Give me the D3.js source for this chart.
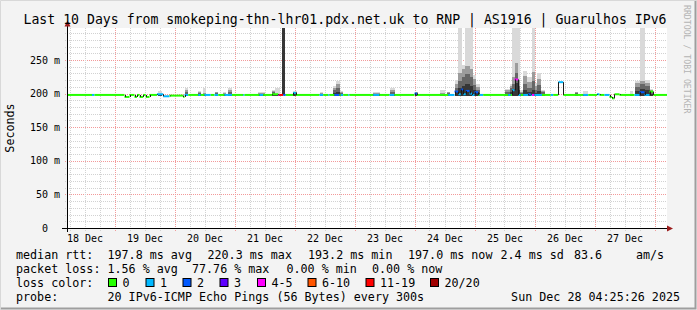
<!DOCTYPE html>
<html lang="en">
<head>
<meta charset="UTF-8">
<title>Smokeping 10 days</title>
<script src="https://d3js.org/d3.v7.min.js"></script>
<style>
    body { margin: 0; background: #f3f3f3; }
    svg { display: block; font-family: "DejaVu Sans Mono", monospace; }
    text { white-space: pre; }
</style>
</head>
<body>
<svg id="chart" width="697" height="310"></svg>
<script>
const title = "Last 10 Days from smokeping-thn-lhr01.pdx.net.uk to RNP | AS1916 | Guarulhos IPv6";
const yTicks = [0, 50, 100, 150, 200, 250];
const dayLabels = ["18 Dec", "19 Dec", "20 Dec", "21 Dec", "22 Dec", "23 Dec", "24 Dec", "25 Dec", "26 Dec", "27 Dec"];

// loss classes (20 pings)
const lossColors = ["#26ff00", "#00b8ff", "#0059ff", "#5e00ff", "#ff00ff", "#ff5500", "#ff0000", "#a00000"];
const lossLabels = ["0", "1", "2", "3", "4-5", "6-10", "11-19", "20/20"];

// median rtt, step segments; times are hours since 18 Dec 00:00
const medianTimes = [5,15,16,28,30,32,33,34,35.5,36.5,38,41,43.5,46,51.5,52,53.5,57.5,58.5,60,62.5,64,65.5,68,71,75.5,76,82,83.5,87,89.5,90,91.5,92.5,95.5,96.5,106,107.5,109.5,110,112,114,114.5,115.5,117.5,118,127.5,130,134,136,144,145,157.5,160,161.5,162.5,163.5,164.5,166,167,168,169.5,170,171.5,181.5,182.5,183,184,185.5,186.5,187.5,189.5,190.5,191,192,195,198.5,199.5,201.5,203.5,211.5,213.5,217,218,220,222,223,224,226,232,234,236,238,239.5];
const medianValues = [198,198,198,195,198,195,198,195,198,195,198,199,196,197,195,198,198,198,198,198,198,198,198,198,198,198,198,198,198,199,198,198,198,198,201,198,198,198,198,198,198,198,198,198,198,198,198,198,198,198,200,198,198,203,199,206,199,204,200,198,202,198,198,198,198,198,205,221,198,198,198,199,198,198,198,198,198,198,217,198,198,198,199,198,198,195,193,199,198,198,202,198,203,198];
const medianLoss = [0,1,0,0,0,0,0,0,0,0,0,1,1,0,0,1,0,1,0,1,0,1,0,1,0,1,0,1,0,0,4,6,2,0,1,0,1,0,1,0,2,0,1,0,1,0,1,0,1,0,2,0,1,2,1,2,1,2,1,1,2,0,1,0,1,0,1,4,1,0,1,2,1,4,1,0,1,0,1,0,1,0,1,0,1,0,0,0,0,1,2,1,0,0];
const endHour = 245;

// smoke: ping spread per burst (ms)
const smokeStart = [41.5,52,57.5,59.5,64,67.5,69.5,81.5,87,88,91,95.5,106,111.5,112.5,114,127.5,134,144,154,157,160,161.5,163,164,166,167.5,168.5,180,182,183,184,185.5,186,187.5,189,191,192,193,194.5,208,211.5,230,232,234,236,238];
const smokeEnd   = [43,53.5,58.5,60.5,65.5,68.5,71,84,88,90,92,97,107.5,112.5,114,115.5,130,136,145.5,156,158,161.5,163,164,166,167.5,168.5,170,182,183,184,185.5,186,187.5,189,191,192,193,194.5,196,209.5,213.5,231.5,234,236,238,239.5];
const smokeLo    = [197,197,197,197,197,197,197,197,197,197,198,197,197,197,197,197,197,197,197,197,197,196,196,196,196,196,196,196,196,196,196,196,196,196,196,196,196,196,196,196,196,196,197,196,196,196,196];
const smokeP1    = [198,199,199,198,199,199,199,199,200,198,300,200,199,201,203,199,199,199,200,198,199,203,208,211,214,211,205,201,199,203,207,216,205,199,205,202,206,201,204,199,200,198,198,204,207,205,199];
const smokeP2    = [199,202,201,199,201,200,202,200,202,199,300,202,200,205,208,201,200,202,201,199,201,209,219,224,229,224,213,205,202,208,215,230,212,201,214,209,218,206,213,202,201,199,199,210,214,211,203];
const smokeP3    = [200,205,202,201,202,201,205,201,204,200,300,203,201,209,214,202,201,205,202,201,202,215,230,236,241,236,222,210,205,211,224,245,220,203,226,217,232,211,222,204,202,200,200,216,219,216,206];
const smokeMax   = [204,208,204,208,203,202,208,202,206,209,300,204,202,212,218,204,202,208,203,206,203,220,300,242,300,300,228,214,207,215,300,300,300,205,233,224,300,216,230,206,203,204,204,219,300,220,207];

const legendRtt = [["median rtt:", 16], ["197.8 ms avg", 107.5], ["220.3 ms max", 207.5], ["193.2 ms min", 308], ["197.0 ms now", 408], ["2.4 ms sd", 500.5], ["83.6", 574], ["am/s", 636]];
const legendLoss = [["packet loss:", 16], ["1.56 % avg", 107.5], ["77.76 % max", 192], ["0.00 % min", 286.5], ["0.00 % now", 372]];
const lossBoxX = [108, 145.5, 182.5, 219.5, 257, 307.5, 365.5, 430];
const probeText = "20 IPv6-ICMP Echo Pings (56 Bytes) every 300s";
const stampText = "Sun Dec 28 04:25:26 2025";

const svg = d3.select("#chart");
const W = 697, H = 310;
const plotLeft = 67, plotRight = 667, plotTop = 28, plotBottom = 228;

const base = new Date(2025, 11, 18, 0, 0, 0);
const hr = h => new Date(base.getTime() + h * 3600e3);
const x = d3.scaleTime().domain([hr(5), hr(endHour)]).range([plotLeft, plotRight]);
const y = d3.scaleLinear().domain([0, 297.6]).range([plotBottom, plotTop]);
const yc = v => y(Math.min(v, 297.6));

// frame
svg.append("rect").attr("width", W).attr("height", H).attr("fill", "#f3f3f3");
svg.append("path").attr("d", `M0.5,${H}V0.5H${W}`).attr("fill", "none").attr("stroke", "#d8d8d8");
svg.append("path").attr("d", `M1,${H - 1.5}H${W - 1.5}V1`).attr("fill", "none").attr("stroke", "#9e9e9e").attr("stroke-width", 2);
svg.append("rect").attr("x", plotLeft).attr("y", plotTop).attr("width", plotRight - plotLeft).attr("height", plotBottom - plotTop).attr("fill", "#fff");

// grid (under the data)
const grid = svg.append("g").attr("shape-rendering", "crispEdges").attr("stroke-dasharray", "1,1");
d3.range(10, 297, 10).forEach(v => {
    grid.append("line").attr("x1", plotLeft - 2).attr("x2", plotRight).attr("y1", Math.round(y(v)) + 0.5).attr("y2", Math.round(y(v)) + 0.5)
        .attr("stroke", v % 50 === 0 ? "#f29a9a" : "#d2d2d2");
});
d3.timeHour.every(6).range(hr(5), hr(endHour)).forEach(t => {
    const major = t.getHours() === 0;
    grid.append("line").attr("x1", Math.round(x(t)) + 0.5).attr("x2", Math.round(x(t)) + 0.5).attr("y1", plotTop).attr("y2", plotBottom + 3)
        .attr("stroke", major ? "#f29a9a" : "#d2d2d2");
});

// smoke
const shades = ["#363636", "#666666", "#9c9c9c", "#d9d9d9"];
const smoke = svg.append("g").attr("shape-rendering", "crispEdges");
smokeStart.forEach((s, i) => {
    const x0 = x(hr(s)), x1 = x(hr(smokeEnd[i]));
    const levels = [smokeLo[i], smokeP1[i], smokeP2[i], smokeP3[i], smokeMax[i]];
    for (let k = 3; k >= 0; k--) {
        smoke.append("rect")
            .attr("x", x0).attr("width", x1 - x0)
            .attr("y", yc(levels[k + 1])).attr("height", yc(levels[0]) - yc(levels[k + 1]))
            .attr("fill", shades[k]);
    }
});

// median line with loss colour
const med = svg.append("g");
medianTimes.forEach((t, i) => {
    const t1 = i + 1 < medianTimes.length ? medianTimes[i + 1] : endHour;
    med.append("line")
        .attr("x1", x(hr(t))).attr("x2", x(hr(t1)))
        .attr("y1", y(medianValues[i])).attr("y2", y(medianValues[i]))
        .attr("stroke", lossColors[medianLoss[i]]).attr("stroke-width", 2);
});
medianTimes.forEach((t, i) => {
    if (i === 0 || medianValues[i] === medianValues[i - 1]) return;
    med.append("line")
        .attr("x1", Math.round(x(hr(t))) + 0.5).attr("x2", Math.round(x(hr(t))) + 0.5)
        .attr("y1", y(medianValues[i - 1])).attr("y2", y(medianValues[i]))
        .attr("stroke", "#1a1a1a").attr("stroke-width", 1);
});

// axes
const axisG = svg.append("g");
axisG.append("line").attr("x1", plotLeft - 5).attr("x2", plotRight + 1).attr("y1", plotBottom + 0.5).attr("y2", plotBottom + 0.5).attr("stroke", "#000");
axisG.append("line").attr("x1", plotLeft + 0.5).attr("x2", plotLeft + 0.5).attr("y1", plotBottom + 4).attr("y2", 25).attr("stroke", "#000");
axisG.append("path").attr("d", `M${plotRight},${plotBottom - 2.5}L${plotRight + 6},${plotBottom + 0.5}L${plotRight},${plotBottom + 3.5}Z`).attr("fill", "#9b1c1c");
axisG.append("path").attr("d", `M${plotLeft - 2.5},26.5L${plotLeft + 0.5},20.5L${plotLeft + 3.5},26.5Z`).attr("fill", "#9b1c1c");

const noons = dayLabels.map((d, i) => hr(12 + 24 * i));
const xAxis = svg.append("g").attr("transform", `translate(0,${plotBottom})`)
    .call(d3.axisBottom(x).tickValues(noons).tickFormat(d3.timeFormat("%d %b")).tickSize(0).tickPadding(7));
xAxis.select(".domain").remove();
xAxis.selectAll("text").attr("font-family", "DejaVu Sans Mono").attr("font-size", 10).attr("fill", "#000");

const yAxis = svg.append("g").attr("transform", `translate(${plotLeft},0)`)
    .call(d3.axisLeft(y).tickValues(yTicks).tickFormat(d => d === 0 ? "0  " : d + " m").tickSize(0).tickPadding(7));
yAxis.select(".domain").remove();
yAxis.selectAll("text").attr("font-family", "DejaVu Sans Mono").attr("font-size", 10).attr("fill", "#000");

// title and labels
svg.append("text").attr("x", 345).attr("y", 24).attr("text-anchor", "middle")
    .attr("font-size", 13.2).attr("fill", "#000").text(title);
svg.append("text").attr("transform", "translate(14,128) rotate(-90)").attr("text-anchor", "middle")
    .attr("font-size", 11.7).attr("fill", "#000").text("Seconds");
svg.append("text").attr("transform", "translate(683.5,5) rotate(90)")
    .attr("font-size", 8.2).attr("fill", "#b4b4b4").text("RRDTOOL / TOBI OETIKER");

// legend
const leg = svg.append("g").attr("font-size", 11.7).attr("fill", "#000");
legendRtt.forEach(([s, lx]) => leg.append("text").attr("x", lx).attr("y", 258.5).text(s));
legendLoss.forEach(([s, lx]) => leg.append("text").attr("x", lx).attr("y", 272.5).text(s));
leg.append("text").attr("x", 16).attr("y", 286.5).text("loss color:");
lossBoxX.forEach((bx, i) => {
    leg.append("rect").attr("x", bx + 0.5).attr("y", 278.5).attr("width", 8).attr("height", 8)
        .attr("fill", lossColors[i]).attr("stroke", "#000");
    leg.append("text").attr("x", bx + 14.5).attr("y", 286.5).text(lossLabels[i]);
});
leg.append("text").attr("x", 16).attr("y", 300.5).text("probe:");
leg.append("text").attr("x", 107.5).attr("y", 300.5).text(probeText);
leg.append("text").attr("x", 680).attr("y", 300.5).attr("text-anchor", "end").text(stampText);
</script>
</body>
</html>
